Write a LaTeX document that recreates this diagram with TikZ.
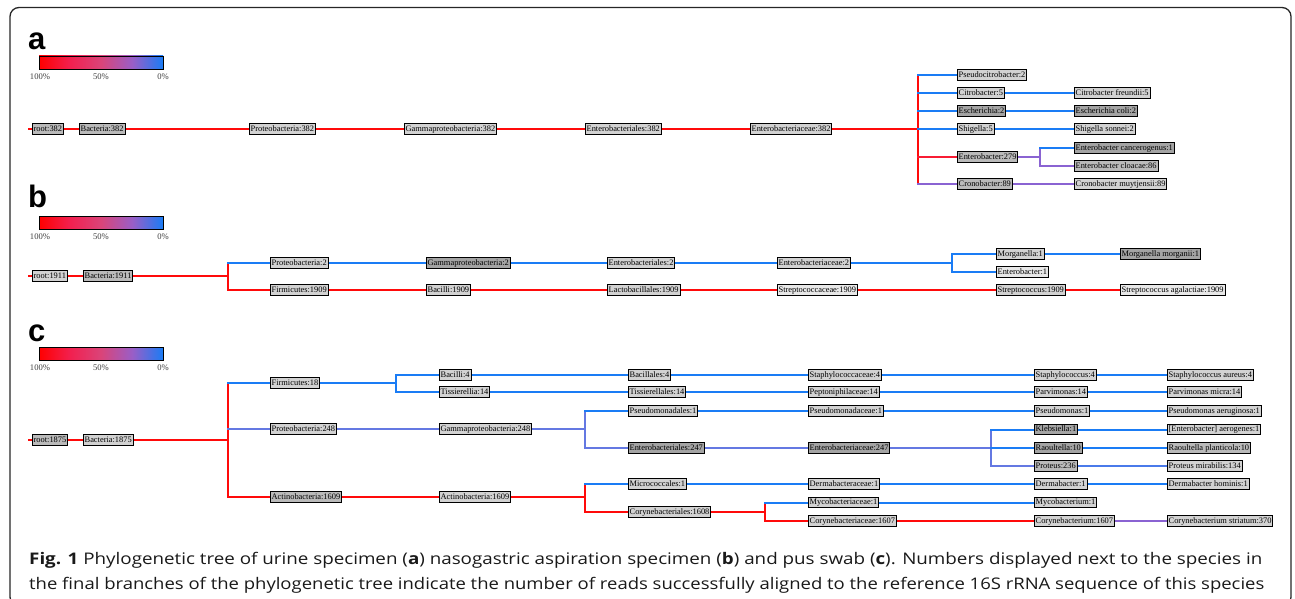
\documentclass[tikz,border=0pt]{standalone}
\usepackage{fontspec}
\usepackage{graphicx}
\newfontfamily\lblfont{Liberation Serif}
\newfontfamily\capfont{Open Sans}
\newfontfamily\letfont{Liberation Sans}
\usetikzlibrary{backgrounds}
\definecolor{cR}{HTML}{FF0A0A}
\definecolor{cE}{HTML}{F81C34}
\definecolor{cB}{HTML}{1A7CF5}
\definecolor{cP}{HTML}{8A63D2}
\definecolor{cL}{HTML}{6478E2}
\definecolor{cLB}{HTML}{4A7AEA}
\definecolor{cbR}{HTML}{FF0000}
\definecolor{cbQ}{HTML}{F2204F}
\definecolor{cbM}{HTML}{DA4479}
\definecolor{cbT}{HTML}{9A5EC6}
\definecolor{cbB}{HTML}{1A7CF5}
\definecolor{gL}{HTML}{D2D2D2}
\definecolor{gM}{HTML}{BABABA}
\definecolor{gD}{HTML}{A4A4A4}
\definecolor{gW}{HTML}{E8E8E8}
\pgfdeclarehorizontalshading{cbshade}{100bp}{color(0bp)=(cbR); color(25bp)=(cbR); color(37.5bp)=(cbQ); color(50bp)=(cbM); color(62.5bp)=(cbT); color(75bp)=(cbB); color(100bp)=(cbB)}
\tikzset{
  lbl/.style={draw=black, line width=0.7pt, fill=gL, font=\lblfont\fontsize{8.4}{9}\selectfont,
    inner xsep=1.3pt, inner ysep=0pt, minimum height=10.5pt, text height=6pt, text depth=1.6pt, anchor=west},
  lblM/.style={lbl, fill=gM},
  lblD/.style={lbl, fill=gD},
  lblW/.style={lbl, fill=gW},
  edge/.style={line width=2pt, line cap=rect},
  letter/.style={font=\letfont\bfseries\fontsize{31}{31}\selectfont, anchor=base west, inner sep=0pt},
  pct/.style={font=\lblfont\fontsize{8.6}{9}\selectfont, text=black!75, inner sep=0pt},
  cbar/.style={line width=0.8pt, draw=black},
  capline/.style={font=\capfont\fontsize{16}{18}\selectfont, anchor=base west, inner sep=0pt, text=black!90},
}
\begin{document}
\begin{tikzpicture}[x=1pt,y=-1pt]
\useasboundingbox (0,0) rectangle (1295,599);
\clip (0,0) rectangle (1295,599);
\draw[line width=1.3pt, rounded corners=9pt, draw=black!85] (10,7.5) rectangle (1291,606);

% ---------- panel letters and colour bars ----------
\node[letter] (la) at (28,50) {a};
\node[letter] (lb) at (28,207) {b};
\node[letter] (lc) at (28,341) {c};
\foreach \yy/\nm in {56/a,216/b,347/c}{
  \shade[shading=cbshade] (39,\yy) rectangle (163,\yy+13);
  \draw[cbar] (39,\yy) rectangle (163,\yy+13);
  \node[pct] (p100\nm) at (40,\yy+21) {100\%};
  \node[pct] (p50\nm) at (101,\yy+21) {50\%};
  \node[pct] (p0\nm) at (163,\yy+21) {0\%};
}

% ---------- panel a ----------
\node[lblM] (ra) at (32,129) {root:382};
\node[lblM] (ba) at (79,129) {Bacteria:382};
\node[lbl] (pa) at (249,129) {Proteobacteria:382};
\node[lbl] (ga) at (404,129) {Gammaproteobacteria:382};
\node[lbl] (oa) at (585,129) {Enterobacteriales:382};
\node[lbl] (fa) at (750,129) {Enterobacteriaceae:382};
\node[lbl] (a1) at (957,75) {Pseudocitrobacter:2};
\node[lbl] (a2) at (957,93) {Citrobacter:5};
\node[lbl] (a2s) at (1074,93) {Citrobacter freundii:5};
\node[lblD] (a3) at (957,111) {Escherichia:2};
\node[lblD] (a3s) at (1074,111) {Escherichia coli:2};
\node[lbl] (a4) at (957,129) {Shigella:5};
\node[lbl] (a4s) at (1074,129) {Shigella sonnei:2};
\node[lblM] (a5) at (957,157) {Enterobacter:279};
\node[lblD] (a5s) at (1074,148) {Enterobacter cancerogenus:1};
\node[lblM] (a5t) at (1074,166) {Enterobacter cloacae:86};
\node[lblM] (a6) at (957,184) {Cronobacter:89};
\node[lbl] (a6s) at (1074,184) {Cronobacter muytjensii:89};
\coordinate (a0) at (29,129);
\coordinate (aK) at (918,129);
\coordinate (aL) at (1040,157);

% ---------- panel b ----------
\node[lbl] (rb) at (32,276) {root:1911};
\node[lblM] (bb) at (83,276) {Bacteria:1911};
\node[lbl] (b1) at (270,263) {Proteobacteria:2};
\node[lblD] (b2) at (426,263) {Gammaproteobacteria:2};
\node[lbl] (b3) at (607,263) {Enterobacteriales:2};
\node[lbl] (b4) at (777,263) {Enterobacteriaceae:2};
\node[lbl] (b5) at (996,254) {Morganella:1};
\node[lblD] (b5s) at (1120,254) {Morganella morganii:1};
\node[lblW] (b6) at (996,272) {Enterobacter:1};
\node[lbl] (b7) at (270,290) {Firmicutes:1909};
\node[lbl] (b8) at (426,290) {Bacilli:1909};
\node[lbl] (b9) at (607,290) {Lactobacillales:1909};
\node[lblW] (b10) at (777,290) {Streptococcaceae:1909};
\node[lbl] (b11) at (996,290) {Streptococcus:1909};
\node[lblW] (b12) at (1120,290) {Streptococcus agalactiae:1909};
\coordinate (b0) at (29,276);
\coordinate (bK) at (228,276);
\coordinate (bL) at (952,263);

% ---------- panel c ----------
\node[lblM] (rc) at (32,440) {root:1875};
\node[lbl] (bc) at (83,440) {Bacteria:1875};
\node[lbl] (c1) at (270,383) {Firmicutes:18};
\node[lbl] (c11) at (439,375) {Bacilli:4};
\node[lbl] (c12) at (628,375) {Bacillales:4};
\node[lbl] (c13) at (808,375) {Staphylococcaceae:4};
\node[lbl] (c14) at (1034,375) {Staphylococcus:4};
\node[lbl] (c15) at (1167,375) {Staphylococcus aureus:4};
\node[lbl] (c21) at (439,392) {Tissierellia:14};
\node[lbl] (c22) at (628,392) {Tissierellales:14};
\node[lbl] (c23) at (808,392) {Peptoniphilaceae:14};
\node[lbl] (c24) at (1034,392) {Parvimonas:14};
\node[lbl] (c25) at (1167,392) {Parvimonas micra:14};
\node[lbl] (c2) at (270,429) {Proteobacteria:248};
\node[lbl] (c3) at (439,429) {Gammaproteobacteria:248};
\node[lbl] (c31) at (628,411) {Pseudomonadales:1};
\node[lbl] (c32) at (808,411) {Pseudomonadaceae:1};
\node[lbl] (c33) at (1034,411) {Pseudomonas:1};
\node[lbl] (c34) at (1167,411) {Pseudomonas aeruginosa:1};
\node[lblD] (c41) at (628,448) {Enterobacteriales:247};
\node[lblD] (c42) at (808,448) {Enterobacteriaceae:247};
\node[lblD] (c43) at (1034,429.5) {Klebsiella:1};
\node[lbl] (c44) at (1167,429.5) {[Enterobacter] aerogenes:1};
\node[lblD] (c45) at (1034,448) {Raoultella:10};
\node[lblM] (c46) at (1167,448) {Raoultella planticola:10};
\node[lblM] (c47) at (1034,466) {Proteus:236};
\node[lbl] (c48) at (1167,466) {Proteus mirabilis:134};
\node[lblM] (c5) at (270,497) {Actinobacteria:1609};
\node[lbl] (c6) at (439,497) {Actinobacteria:1609};
\node[lbl] (c51) at (628,484) {Micrococcales:1};
\node[lbl] (c52) at (808,484) {Dermabacteraceae:1};
\node[lbl] (c53) at (1034,484) {Dermabacter:1};
\node[lbl] (c54) at (1167,484) {Dermabacter hominis:1};
\node[lbl] (c61) at (628,512) {Corynebacteriales:1608};
\node[lbl] (c62) at (808,502.5) {Mycobacteriaceae:1};
\node[lbl] (c63) at (1034,502.5) {Mycobacterium:1};
\node[lbl] (c64) at (808,521) {Corynebacteriaceae:1607};
\node[lbl] (c65) at (1034,521) {Corynebacterium:1607};
\node[lbl] (c66) at (1167,521) {Corynebacterium striatum:370};
\coordinate (c0) at (29,440);
\coordinate (cK) at (228,440);
\coordinate (cF) at (396,383);
\coordinate (cG) at (585,429);
\coordinate (cH) at (991,448);
\coordinate (cA) at (585,497);
\coordinate (cC) at (765,512);

% ---------- connectors ----------
\begin{scope}[on background layer]
% panel a
\draw[edge,cR] (a0) -- (ra.west);
\draw[edge,cR] (ra.east) -- (ba.west);
\draw[edge,cR] (ba.east) -- (pa.west);
\draw[edge,cR] (pa.east) -- (ga.west);
\draw[edge,cR] (ga.east) -- (oa.west);
\draw[edge,cR] (oa.east) -- (fa.west);
\draw[edge,cR] (fa.east) -- (aK);
\draw[edge,cR] (aK |- a1.west) -- (aK |- a6.west);
\draw[edge,cB] (aK |- a1.west) -- (a1.west);
\draw[edge,cB] (aK |- a2.west) -- (a2.west);
\draw[edge,cB] (a2.east) -- (a2s.west);
\draw[edge,cB] (aK |- a3.west) -- (a3.west);
\draw[edge,cB] (a3.east) -- (a3s.west);
\draw[edge,cB] (aK |- a4.west) -- (a4.west);
\draw[edge,cB] (a4.east) -- (a4s.west);
\draw[edge,cE] (aK |- a5.west) -- (a5.west);
\draw[edge,cP] (a5.east) -- (aL);
\draw[edge,cP] (aL |- a5s.west) -- (aL |- a5t.west);
\draw[edge,cB] (aL |- a5s.west) -- (a5s.west);
\draw[edge,cP] (aL |- a5t.west) -- (a5t.west);
\draw[edge,cP] (aK |- a6.west) -- (a6.west);
\draw[edge,cP] (a6.east) -- (a6s.west);
% panel b
\draw[edge,cR] (b0) -- (rb.west);
\draw[edge,cR] (rb.east) -- (bb.west);
\draw[edge,cR] (bb.east) -- (bK);
\draw[edge,cR] (bK |- b1.west) -- (bK |- b7.west);
\draw[edge,cB] (bK |- b1.west) -- (b1.west);
\draw[edge,cB] (b1.east) -- (b2.west);
\draw[edge,cB] (b2.east) -- (b3.west);
\draw[edge,cB] (b3.east) -- (b4.west);
\draw[edge,cB] (b4.east) -- (bL);
\draw[edge,cB] (bL |- b5.west) -- (bL |- b6.west);
\draw[edge,cB] (bL |- b5.west) -- (b5.west);
\draw[edge,cB] (b5.east) -- (b5s.west);
\draw[edge,cB] (bL |- b6.west) -- (b6.west);
\draw[edge,cR] (bK |- b7.west) -- (b7.west);
\draw[edge,cR] (b7.east) -- (b8.west);
\draw[edge,cR] (b8.east) -- (b9.west);
\draw[edge,cR] (b9.east) -- (b10.west);
\draw[edge,cR] (b10.east) -- (b11.west);
\draw[edge,cR] (b11.east) -- (b12.west);
% panel c
\draw[edge,cR] (c0) -- (rc.west);
\draw[edge,cR] (rc.east) -- (bc.west);
\draw[edge,cR] (bc.east) -- (cK);
\draw[edge,cR] (cK |- c1.west) -- (cK |- c5.west);
\draw[edge,cB] (cK |- c1.west) -- (c1.west);
\draw[edge,cB] (c1.east) -- (cF);
\draw[edge,cB] (cF |- c11.west) -- (cF |- c21.west);
\draw[edge,cB] (cF |- c11.west) -- (c11.west);
\draw[edge,cB] (c11.east) -- (c12.west);
\draw[edge,cB] (c12.east) -- (c13.west);
\draw[edge,cB] (c13.east) -- (c14.west);
\draw[edge,cB] (c14.east) -- (c15.west);
\draw[edge,cB] (cF |- c21.west) -- (c21.west);
\draw[edge,cB] (c21.east) -- (c22.west);
\draw[edge,cB] (c22.east) -- (c23.west);
\draw[edge,cB] (c23.east) -- (c24.west);
\draw[edge,cB] (c24.east) -- (c25.west);
\draw[edge,cL] (cK |- c2.west) -- (c2.west);
\draw[edge,cL] (c2.east) -- (c3.west);
\draw[edge,cL] (c3.east) -- (cG);
\draw[edge,cL] (cG |- c31.west) -- (cG |- c41.west);
\draw[edge,cB] (cG |- c31.west) -- (c31.west);
\draw[edge,cB] (c31.east) -- (c32.west);
\draw[edge,cB] (c32.east) -- (c33.west);
\draw[edge,cB] (c33.east) -- (c34.west);
\draw[edge,cL] (cG |- c41.west) -- (c41.west);
\draw[edge,cL] (c41.east) -- (c42.west);
\draw[edge,cL] (c42.east) -- (cH);
\draw[edge,cL] (cH |- c43.west) -- (cH |- c47.west);
\draw[edge,cB] (cH |- c43.west) -- (c43.west);
\draw[edge,cB] (c43.east) -- (c44.west);
\draw[edge,cB] (cH |- c45.west) -- (c45.west);
\draw[edge,cB] (c45.east) -- (c46.west);
\draw[edge,cL] (cH |- c47.west) -- (c47.west);
\draw[edge,cLB] (c47.east) -- (c48.west);
\draw[edge,cR] (cK |- c5.west) -- (c5.west);
\draw[edge,cR] (c5.east) -- (c6.west);
\draw[edge,cR] (c6.east) -- (cA);
\draw[edge,cR] (cA |- c51.west) -- (cA |- c61.west);
\draw[edge,cB] (cA |- c51.west) -- (c51.west);
\draw[edge,cB] (c51.east) -- (c52.west);
\draw[edge,cB] (c52.east) -- (c53.west);
\draw[edge,cB] (c53.east) -- (c54.west);
\draw[edge,cR] (cA |- c61.west) -- (c61.west);
\draw[edge,cR] (c61.east) -- (cC);
\draw[edge,cR] (cC |- c62.west) -- (cC |- c64.west);
\draw[edge,cB] (cC |- c62.west) -- (c62.west);
\draw[edge,cB] (c62.east) -- (c63.west);
\draw[edge,cR] (cC |- c64.west) -- (c64.west);
\draw[edge,cR] (c64.east) -- (c65.west);
\draw[edge,cP] (c65.east) -- (c66.west);
\end{scope}

% ---------- caption ----------
\node[capline] (cap1) at (29,564) {\resizebox{1233pt}{\height}{\textbf{Fig. 1} Phylogenetic tree of urine specimen (\textbf{a}) nasogastric aspiration specimen (\textbf{b}) and pus swab (\textbf{c}). Numbers displayed next to the species in}};
\node[capline] (cap2) at (29,589) {\resizebox{1235pt}{\height}{the final branches of the phylogenetic tree indicate the number of reads successfully aligned to the reference 16S rRNA sequence of this species}};
\end{tikzpicture}
\end{document}
